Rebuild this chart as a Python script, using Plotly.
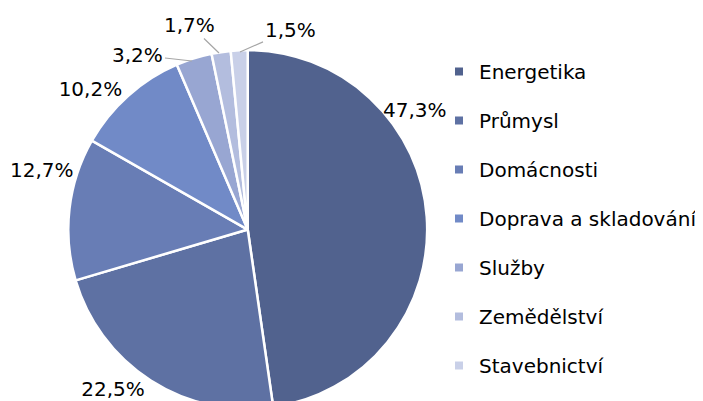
import plotly.graph_objects as go

categories = ["Energetika", "Průmysl", "Domácnosti", "Doprava a skladování",
              "Služby", "Zemědělství", "Stavebnictví"]
values = [47.3, 22.5, 12.7, 10.2, 3.2, 1.7, 1.5]
labels_text = ["47,3%", "22,5%", "12,7%", "10,2%", "3,2%", "1,7%", "1,5%"]
colors = ["#51628e", "#5e71a3", "#687db5", "#718ac7", "#98a6d2", "#b3bdde", "#c9d0e8"]

FONT = "DejaVu Sans"
W, H = 703, 401
OFF = 8  # page body margin in the browser

# labels drawn by the pie itself (the rest are placed like the reference, with leader lines)
native = {1, 3}
pie_text = [t if i in native else "" for i, t in enumerate(labels_text)]

fig = go.Figure()
fig.add_trace(go.Pie(
    labels=categories,
    values=values,
    text=pie_text,
    textinfo="text",
    textposition="outside",
    sort=False,
    direction="clockwise",
    rotation=0,
    marker=dict(colors=colors, line=dict(color="white", width=2.5)),
    outsidetextfont=dict(family=FONT, size=20, color="#000000"),
    domain=dict(x=[0, 0.682], y=[0, 0.895]),
    showlegend=False,
    hoverinfo="label+text",
))

for i, (cat, col) in enumerate(zip(categories, colors)):
    fig.add_trace(go.Scatter(
        x=[None], y=[None], mode="markers", name=cat,
        legendgroup=f"g{i}",
        marker=dict(symbol="square", size=8, color=col),
        showlegend=True,
    ))


def px(sx):
    return (sx - OFF) / W


def py(sy):
    return 1 - (sy - OFF) / H


# label placement (screen position of text centre; optional leader-line tip)
label_pos = {
    0: dict(text_xy=(415, 110)),
    2: dict(text_xy=(42, 170)),
    4: dict(text_xy=(138, 55), tip=(192, 61)),
    5: dict(text_xy=(190, 25), tip=(219, 53)),
    6: dict(text_xy=(290, 30), tip=(240, 52)),
}
for i, p in label_pos.items():
    tx, ty = p["text_xy"]
    if "tip" in p:
        tipx, tipy = p["tip"]
        fig.add_annotation(
            text=labels_text[i], xref="paper", yref="paper",
            x=px(tipx), y=py(tipy), ax=tx - tipx, ay=ty - tipy,
            showarrow=True, arrowhead=0, arrowwidth=1.2, arrowcolor="#a6a6a6",
            standoff=0, font=dict(family=FONT, size=20, color="#000000"),
        )
    else:
        fig.add_annotation(
            text=labels_text[i], xref="paper", yref="paper",
            x=px(tx), y=py(ty), xanchor="center", yanchor="middle",
            showarrow=False, font=dict(family=FONT, size=20, color="#000000"),
        )

fig.update_layout(
    width=W, height=H,
    margin=dict(l=0, r=0, t=0, b=0, autoexpand=False),
    paper_bgcolor="white", plot_bgcolor="white",
    xaxis=dict(visible=False), yaxis=dict(visible=False),
    legend=dict(
        x=431 / W, xanchor="left", y=1 - 44 / H, yanchor="top",
        font=dict(family=FONT, size=20, color="#000000"),
        tracegroupgap=20,
        bgcolor="rgba(0,0,0,0)",
    ),
)

fig.write_html("out.html")
